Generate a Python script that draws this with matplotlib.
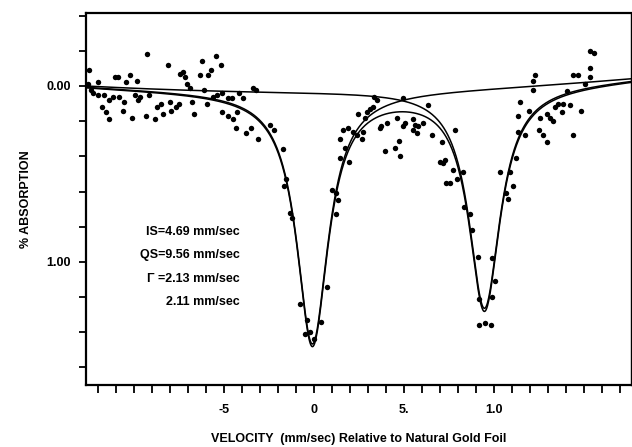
"""Mossbauer absorption spectrum: doublet fit vs velocity relative to gold foil.

Scatter of measured % absorption, two Lorentzian components on a gently
curved baseline, and their sum.  Writes ``out.png``.
"""

import matplotlib.pyplot as plt
import numpy as np

velocity = [
    -12.56, -12.50, -12.39, -12.28, -12.00, -12.00, -11.78, -11.67, -11.56, -11.39,
    -11.39, -11.17, -11.06, -10.89, -10.83, -10.61, -10.56, -10.44, -10.22, -10.11,
    -9.94, -9.83, -9.78, -9.67, -9.33, -9.28, -9.17, -8.83, -8.72, -8.50,
    -8.39, -8.11, -8.00, -7.94, -7.67, -7.50, -7.44, -7.28, -7.17, -7.06,
    -6.89, -6.78, -6.67, -6.33, -6.22, -6.11, -5.94, -5.89, -5.72, -5.61,
    -5.44, -5.39, -5.17, -5.11, -5.11, -4.78, -4.78, -4.56, -4.50, -4.28,
    -4.33, -4.17, -3.94, -3.78, -3.50, -3.39, -3.22, -3.11, -2.44, -2.22,
    -1.72, -1.67, -1.56, -1.33, -1.22,
    -0.78, -0.39, -0.50, -0.22, 0.00, 0.39, 0.72, 1.00, 1.22, 1.33,
    1.22, 1.94,
    1.44, 1.44, 1.61, 1.72, 1.89, 2.17, 2.39, 2.44, 2.67, 2.72,
    2.83, 2.94, 3.11, 3.28, 3.33, 3.50, 3.67, 3.72, 3.94, 4.06,
    4.50, 4.61, 4.72, 4.78, 4.94, 4.94, 5.06, 5.50, 5.50, 5.61,
    5.72, 5.78, 6.06, 6.33, 6.56, 7.00, 7.11, 7.17, 7.28, 7.33,
    7.56, 7.72, 7.83, 7.94, 8.28,
    8.33, 8.67, 8.78, 9.11, 9.17, 9.17, 9.50, 9.83, 9.89, 10.06,
    9.89, 10.33, 10.67, 10.78, 10.89, 11.06,
    11.22, 11.33, 11.33, 11.44, 11.72, 11.94, 12.17, 12.17, 12.28, 12.50,
    12.56, 12.72, 12.94, 12.94, 13.11, 13.28, 13.39, 13.56, 13.78, 13.83,
    14.06, 14.22, 14.39, 14.39, 14.67, 14.83, 15.06, 15.33, 15.33, 15.33,
    15.56,
]
absorption = [
    -0.01, -0.09, 0.02, 0.04, -0.02, 0.05, 0.12, 0.05, 0.15, 0.19,
    0.08, 0.06, -0.05, -0.05, 0.06, 0.14, 0.09, -0.02, -0.06, 0.18,
    0.05, -0.03, 0.08, 0.06, 0.17, -0.18, 0.05, 0.19, 0.12, 0.10,
    0.16, -0.12, 0.09, 0.14, 0.12, 0.10, -0.07, -0.08, -0.05, -0.01,
    0.01, 0.09, 0.16, -0.06, -0.14, 0.02, 0.10, -0.06, -0.09, 0.06,
    -0.17, 0.05, -0.12, 0.04, 0.15, 0.07, 0.17, 0.07, 0.19, 0.15,
    0.24, 0.04, 0.07, 0.27, 0.24, 0.01, 0.02, 0.30, 0.22, 0.25,
    0.36, 0.57, 0.53, 0.72, 0.75,
    1.24, 1.33, 1.41, 1.40, 1.44, 1.34, 1.14, 0.59, 0.61, 0.65,
    0.73, 0.43,
    0.30, 0.41, 0.25, 0.35, 0.24, 0.26, 0.28, 0.16, 0.30, 0.26,
    0.18, 0.15, 0.13, 0.12, 0.06, 0.08, 0.24, 0.23, 0.37, 0.21,
    0.35, 0.18, 0.31, 0.40, 0.07, 0.23, 0.21, 0.19, 0.25, 0.22,
    0.27, 0.23, 0.21, 0.11, 0.28, 0.43, 0.32, 0.44, 0.42, 0.55,
    0.55, 0.48, 0.25, 0.53, 0.49,
    0.69, 0.73, 0.82, 0.97, 1.21, 1.36, 1.35, 1.36, 0.98, 1.11,
    1.20, 0.49, 0.61, 0.64, 0.49, 0.57,
    0.41, 0.17, 0.26, 0.09, 0.28, 0.14, 0.02, -0.03, -0.06, 0.25,
    0.18, 0.28, 0.16, 0.32, 0.18, 0.20, 0.12, 0.10, 0.15, 0.10,
    0.03, 0.11, -0.06, 0.28, -0.06, 0.14, -0.01, -0.05, -0.10, -0.20,
    -0.19,
]

# fit parameters (mm/s), as quoted on the figure
IS = 4.69
QS = 9.56
GAMMA = [2.13, 2.11]
DEPTH = [1.44, 1.26]
BASE = [0.027, -0.00037, -0.000215]  # baseline c0 + c1*v + c2*v^2

x_ticks_major = [-5, 0, 5, 10]
x_tick_labels = ["-5", "0", "5.", "1.0"]
y_ticks_major = [0.0, 1.0]
y_tick_labels = ["0.00", "1.00"]

fit_text = ["IS=4.69 mm/sec", "QS=9.56 mm/sec", "Γ =2.13 mm/sec", "2.11 mm/sec"]
fit_text_y = [0.83, 0.96, 1.10, 1.23]


def lorentz(v, centre, fwhm, depth):
    hw = fwhm / 2
    return depth * hw ** 2 / ((v - centre) ** 2 + hw ** 2)


def main() -> int:
    plt.rcParams["font.family"] = ["Liberation Sans", "DejaVu Sans"]

    fig = plt.figure(figsize=(6.32, 4.47), dpi=100)
    ax = fig.add_axes([86 / 632, 62 / 447, 545 / 632, 372 / 447])

    v = np.linspace(-12.67, 17.7, 800)
    base = BASE[0] + BASE[1] * v + BASE[2] * v ** 2
    c1 = IS - QS / 2
    c2 = IS + QS / 2
    l1 = lorentz(v, c1, GAMMA[0], DEPTH[0])
    l2 = lorentz(v, c2, GAMMA[1], DEPTH[1])

    ax.plot(v, base + l1, color="black", lw=1.1)
    ax.plot(v, base + l2, color="black", lw=1.1)
    ax.plot(v, base + l1 + l2, color="black", lw=1.1)
    ax.plot(velocity, absorption, "o", color="black", ms=3.9, mew=0)

    ax.set_xlim(-12.67, 17.61)
    ax.set_ylim(1.70, -0.415)

    ax.set_xticks(np.arange(-12, 18, 1), minor=True)
    ax.set_xticks(x_ticks_major)
    ax.set_xticklabels(x_tick_labels)
    ax.set_yticks(np.arange(-0.4, 1.61, 0.2), minor=True)
    ax.set_yticks(y_ticks_major)
    ax.set_yticklabels(y_tick_labels)
    ax.tick_params(which="both", direction="out", width=1.3, length=5,
                   labelsize=9, pad=6)
    ax.tick_params(axis="x", which="both", length=6, pad=8)
    for lab in ax.get_xticklabels() + ax.get_yticklabels():
        lab.set_fontweight("bold")

    for side in ("left", "bottom", "top"):
        ax.spines[side].set_linewidth(1.6)
    ax.spines["right"].set_linewidth(1.0)

    for txt, y in zip(fit_text, fit_text_y):
        ax.text(-4.1, y, txt, ha="right", va="center", fontsize=9,
                fontweight="bold")

    ax.set_ylabel("% ABSORPTION", fontsize=9, fontweight="bold", labelpad=10)
    ax.set_xlabel("VELOCITY  (mm/sec) Relative to Natural Gold Foil",
                  fontsize=9, fontweight="bold", labelpad=12)

    fig.savefig("out.png", dpi=100)
    return 0


if __name__ == "__main__":
    raise SystemExit(main())
